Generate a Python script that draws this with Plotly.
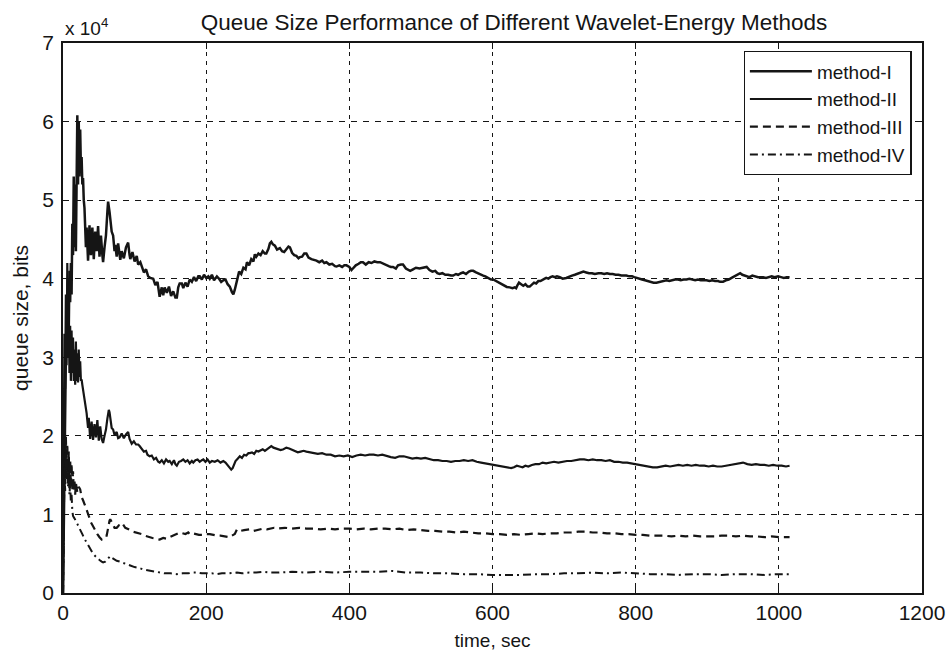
import plotly.graph_objects as go

# ---- data (time in sec, queue size in bits) ----
METHOD_I = [(0,0),(2,15000),(4,30000),(6,36000),(7,40000),(8,33000),(9,41000),(10,37000),(11,42000),(12,38000),(13,47000),(14,43000),(15,53000),(16,44000),(17,52000),(18,43500),(19,53000),(20,60800),(21,52000),(22,60000),(23,53000),(24,59000),(25,54000),(26,55500),(27,52000),(28,52800),(29,50000),(30,49000),(32,44000),(33,46500),(35,42300),(37,46800),(39,43000),(41,46500),(43,42500),(45,46000),(47,43500),(49,46700),(51,42800),(53,45500),(55,43000),(56,42100),(58,44000),(60,45500),(62,48500),(63,49800),(65,48500),(66,47700),(68,46000),(70,45500),(72,43500),(73,44300),(75,42800),(77,44500),(79,42600),(80,42400),(82,43500),(85,42600),(88,44000),(91,44600),(93,43000),(94,42500),(97,43400),(100,42200),(103,42900),(105,41800),(108,42100),(110,41500),(113,40800),(116,41200),(119,40300),(122,40100),(126,40000),(129,39200),(132,39600),(135,37700),(138,38900),(140,37900),(142,38900),(145,38200),(148,39000),(151,37800),(154,38400),(157,37600),(159,37600),(161,38900),(163,39400),(166,39400),(168,38800),(171,39500),(174,39000),(177,39900),(180,39600),(183,40200),(186,39700),(189,40300),(191,40300),(194,39900),(197,40500),(200,40100),(203,40300),(205,40000),(208,40500),(211,39800),(215,40300),(218,40000),(221,39600),(224,39800),(227,39900),(230,39300),(233,39000),(236,38300),(238,38000),(240,38600),(242,39500),(243,40000),(246,40900),(249,40600),(252,41400),(255,41200),(257,42100),(260,41700),(263,42500),(266,42200),(268,43100),(270,42800),(273,43200),(276,43000),(279,43500),(282,43200),(284,43200),(287,43800),(289,44500),(291,44700),(293,44400),(296,44200),(299,43700),(303,43900),(306,43500),(309,43400),(312,43800),(315,44100),(317,44000),(320,43300),(323,43000),(326,42900),(329,42600),(331,42750),(334,42800),(337,43200),(340,43200),(343,42700),(347,42500),(350,42450),(354,42300),(358,42100),(362,42300),(365,42000),(368,42100),(372,41800),(376,41900),(380,41600),(382,41550),(386,41700),(390,41500),(393,41700),(396,41700),(400,41500),(403,41100),(405,41300),(409,41700),(413,41900),(416,42100),(419,42100),(423,41800),(427,42100),(431,42000),(435,42200),(439,42100),(443,42100),(447,41900),(451,41700),(455,41600),(458,41500),(461,41500),(465,41300),(468,41700),(472,41800),(475,41800),(479,41300),(482,41100),(485,41000),(489,41200),(493,41400),(498,41300),(503,41400),(508,41500),(512,41100),(516,40900),(520,41000),(523,40700),(526,40600),(530,40700),(534,40500),(538,40500),(542,40400),(545,40400),(549,40600),(552,40500),(556,40700),(559,40800),(563,40600),(567,40900),(570,41000),(573,41000),(577,40800),(581,40600),(584,40500),(587,40400),(590,40300),(594,40100),(598,39900),(601,39900),(605,39700),(608,39600),(612,39400),(616,39200),(620,38950),(624,38900),(628,38800),(631,38900),(633,38800),(635,39200),(637,39500),(640,39300),(643,39100),(646,39300),(649,39000),(652,39000),(655,39300),(658,39500),(661,39400),(664,39700),(667,39700),(670,39900),(673,40000),(675,40100),(678,40000),(681,40200),(684,40300),(687,40200),(690,40300),(694,40200),(698,40000),(703,40100),(707,40300),(711,40400),(715,40500),(719,40600),(723,40800),(727,40900),(731,40800),(735,40700),(739,40700),(743,40600),(748,40700),(752,40700),(756,40600),(760,40700),(764,40600),(768,40600),(772,40500),(776,40500),(780,40400),(784,40400),(787,40400),(791,40300),(795,40300),(798,40200),(801,40100),(805,40000),(809,39900),(813,39800),(817,39700),(821,39600),(825,39500),(829,39500),(833,39600),(837,39700),(840,39800),(843,39800),(847,39700),(851,39800),(855,39900),(859,39900),(863,39800),(867,39900),(871,39900),(875,40000),(879,39900),(883,39800),(887,39900),(891,39800),(895,39800),(899,39800),(903,39700),(907,39800),(911,39700),(915,39700),(918,39600),(922,39600),(926,39800),(930,39900),(934,40100),(938,40300),(942,40500),(946,40700),(949,40500),(952,40400),(955,40300),(959,40200),(963,40400),(967,40300),(971,40200),(975,40200),(978,40200),(982,40100),(986,40200),(990,40300),(994,40200),(999,40300),(1003,40200),(1007,40100),(1011,40200),(1015,40200)]

METHOD_II = [(0,0),(1,20000),(2,33000),(3,26000),(4,38000),(5,29000),(6,42000),(7,30000),(8,36000),(9,28000),(10,34000),(11,27000),(12,33400),(13,28000),(14,32500),(15,27000),(16,31000),(17,26500),(18,32000),(19,27000),(20,30500),(21,26800),(22,31000),(23,27500),(24,29500),(25,27000),(26,27200),(27,26500),(28,25900),(30,24500),(31,23500),(33,22900),(35,21000),(36,22300),(38,19600),(40,21800),(42,19500),(44,21500),(46,19800),(48,22000),(50,19400),(52,21200),(54,19600),(56,19100),(58,20000),(60,20800),(62,22200),(64,23300),(65,23000),(67,21800),(68,21000),(70,20800),(72,20100),(75,20500),(77,19700),(79,19800),(82,20300),(85,19700),(88,20200),(91,20500),(93,19600),(96,19000),(99,19300),(102,18900),(105,18900),(107,18700),(110,18300),(113,18000),(116,18100),(118,17600),(121,17400),(124,17500),(127,17000),(130,17200),(133,16700),(135,16600),(138,16900),(141,16500),(144,17000),(147,16700),(149,16800),(152,16400),(155,16900),(157,16400),(159,16200),(162,16700),(165,16800),(168,17000),(171,16700),(174,16900),(177,16500),(180,16800),(182,16600),(185,16900),(188,17000),(191,16700),(194,16900),(196,17000),(199,16700),(202,17000),(205,16600),(208,16800),(212,16700),(216,16900),(220,16600),(224,16800),(227,16600),(230,16300),(233,16000),(235,15700),(237,15900),(239,16400),(241,16800),(244,17100),(247,17400),(250,17200),(253,17600),(256,17500),(259,17800),(261,17800),(264,17900),(267,17700),(270,18100),(273,18000),(276,18200),(279,18300),(282,18100),(285,18300),(288,18600),(291,18700),(294,18500),(297,18400),(300,18400),(304,18200),(308,18300),(312,18500),(316,18400),(320,18200),(324,18000),(328,17900),(332,18000),(336,18100),(340,18000),(345,17900),(350,17800),(356,17700),(362,17800),(368,17600),(374,17600),(380,17400),(386,17500),(392,17400),(398,17500),(404,17300),(410,17500),(416,17600),(422,17500),(428,17600),(434,17600),(440,17500),(446,17600),(452,17400),(458,17300),(464,17200),(470,17400),(476,17400),(482,17200),(488,17100),(494,17200),(500,17100),(506,17200),(512,17000),(518,16900),(524,16900),(530,16800),(536,16800),(542,16700),(548,16800),(554,16800),(560,16900),(566,16800),(572,16900),(578,16700),(584,16600),(590,16500),(596,16400),(602,16300),(608,16200),(614,16100),(620,16000),(626,15900),(630,16000),(634,16200),(638,16100),(642,16000),(646,16200),(650,16100),(655,16300),(660,16400),(665,16400),(670,16600),(675,16500),(680,16600),(686,16700),(692,16600),(698,16700),(704,16800),(710,16800),(716,16900),(722,17000),(728,17000),(734,16900),(740,17000),(746,16900),(752,16900),(758,16800),(764,16900),(770,16700),(776,16700),(782,16600),(788,16600),(794,16500),(800,16400),(806,16300),(812,16200),(818,16100),(824,16000),(830,16000),(836,16100),(842,16200),(848,16100),(854,16200),(860,16300),(866,16200),(872,16300),(878,16200),(884,16300),(890,16200),(896,16200),(902,16100),(908,16200),(914,16100),(920,16100),(926,16200),(932,16300),(938,16400),(944,16500),(950,16600),(956,16400),(962,16300),(968,16400),(974,16300),(980,16300),(986,16200),(992,16300),(998,16200),(1004,16200),(1010,16100),(1015,16200)]

METHOD_III = [(0,0),(1,12000),(2,18000),(3,14000),(4,20000),(5,15500),(6,19000),(7,14500),(8,18000),(9,14000),(10,17000),(11,13500),(12,16500),(13,13000),(14,15500),(15,13000),(16,14500),(17,12500),(18,14000),(20,12800),(22,13500),(24,13200),(26,12200),(28,11800),(30,11200),(33,10600),(36,9800),(39,9000),(42,8500),(45,7900),(48,7500),(51,7100),(54,6800),(57,7000),(59,7300),(61,7300),(63,8400),(65,9200),(66,9400),(68,9000),(70,8700),(72,8300),(75,8300),(78,8600),(81,8400),(84,8700),(87,8300),(90,8200),(94,8000),(98,7800),(102,7700),(106,7600),(110,7500),(114,7300),(117,7200),(121,7100),(125,7000),(130,6900),(135,6800),(140,7000),(145,6900),(149,7100),(153,7300),(157,7400),(160,7600),(163,7700),(167,7600),(171,7500),(175,7700),(177,7500),(181,7600),(186,7500),(190,7400),(196,7400),(200,7500),(205,7500),(210,7400),(215,7300),(220,7300),(225,7200),(230,7100),(233,7100),(236,7300),(240,7500),(243,8100),(248,7900),(253,8000),(258,8100),(261,8100),(266,7900),(270,8000),(275,8100),(280,8200),(285,8100),(290,8200),(295,8300),(300,8200),(310,8300),(320,8200),(330,8300),(340,8200),(350,8200),(360,8100),(370,8200),(380,8100),(390,8200),(400,8200),(410,8100),(420,8200),(430,8100),(440,8200),(450,8200),(460,8100),(470,8200),(480,8000),(490,8100),(500,8000),(510,7900),(520,7900),(530,7800),(540,7800),(550,7700),(560,7800),(570,7700),(580,7600),(590,7600),(600,7500),(610,7500),(620,7400),(630,7500),(640,7400),(650,7500),(660,7600),(670,7500),(680,7600),(690,7600),(700,7700),(710,7700),(720,7800),(730,7800),(740,7700),(750,7700),(760,7600),(770,7600),(780,7500),(790,7500),(800,7400),(810,7400),(820,7300),(830,7300),(840,7300),(850,7200),(860,7300),(870,7200),(880,7300),(890,7200),(900,7200),(910,7200),(920,7300),(930,7300),(940,7200),(950,7300),(960,7200),(970,7200),(980,7100),(990,7200),(1000,7100),(1015,7100)]

METHOD_IV = [(0,0),(1,10000),(2,16000),(3,13000),(4,18000),(5,14500),(6,17000),(7,13500),(8,15500),(9,12500),(10,14000),(11,11500),(12,12500),(13,10500),(14,9800),(16,9500),(18,9200),(20,8800),(22,8400),(24,8100),(27,7500),(30,6900),(33,6400),(36,5900),(39,5400),(42,5000),(45,4700),(48,4400),(51,4200),(54,4000),(56,3900),(59,4000),(62,4300),(64,4600),(66,4700),(68,4500),(71,4300),(75,4100),(79,4000),(84,3800),(89,3600),(94,3500),(100,3300),(106,3200),(112,3000),(118,2900),(124,2800),(130,2700),(135,2600),(142,2500),(150,2500),(159,2400),(167,2500),(175,2500),(182,2600),(187,2600),(194,2500),(200,2500),(208,2500),(215,2400),(222,2500),(230,2500),(237,2600),(243,2600),(250,2500),(260,2600),(270,2600),(280,2700),(290,2600),(300,2600),(320,2700),(340,2600),(360,2700),(380,2600),(400,2700),(420,2700),(440,2700),(460,2800),(480,2600),(500,2600),(520,2500),(540,2500),(560,2400),(580,2400),(600,2300),(620,2300),(640,2300),(660,2400),(680,2400),(700,2500),(720,2500),(740,2600),(760,2500),(780,2600),(800,2500),(820,2400),(840,2400),(860,2300),(880,2400),(900,2400),(920,2300),(940,2400),(960,2400),(980,2300),(1000,2400),(1015,2400)]

SERIES_NAMES = ["method-I", "method-II", "method-III", "method-IV"]
X_TICKS = [0, 200, 400, 600, 800, 1000, 1200]
Y_TICKS = [0, 10000, 20000, 30000, 40000, 50000, 60000, 70000]
Y_TICK_TEXT = ["0", "1", "2", "3", "4", "5", "6", "7"]

FONT = "Liberation Sans, Arial, sans-serif"
INK = "#151515"

styles = [
    dict(width=2.5, dash="solid"),
    dict(width=2.2, dash="solid"),
    dict(width=2.2, dash="8px,5px"),
    dict(width=2.0, dash="8px,4px,2px,4px"),
]

fig = go.Figure()
for name, data, st in zip(SERIES_NAMES, [METHOD_I, METHOD_II, METHOD_III, METHOD_IV], styles):
    t, v = zip(*data)
    fig.add_trace(go.Scatter(x=list(t), y=list(v), mode="lines", name=name,
                             line=dict(color=INK, width=st["width"], dash=st["dash"])))

axis_common = dict(
    showline=True, linecolor=INK, linewidth=1.5, mirror="allticks",
    ticks="inside", ticklen=6, tickcolor=INK, tickwidth=1.2,
    showgrid=True, gridcolor=INK, gridwidth=1,
    zeroline=False, tickfont=dict(family=FONT, size=21, color=INK),
)

fig.update_xaxes(range=[0, 1200], tickvals=X_TICKS, griddash="4px,5px",
                 ticklabelstandoff=0,
                 title=dict(text="time, sec", font=dict(family=FONT, size=19, color=INK), standoff=12),
                 **axis_common)
fig.update_yaxes(range=[0, 70000], tickvals=Y_TICKS, ticktext=Y_TICK_TEXT, griddash="6px,6px",
                 ticklabelstandoff=3,
                 title=dict(text="queue size, bits", font=dict(family=FONT, size=21, color=INK), standoff=8),
                 **axis_common)

fig.update_layout(
    width=952, height=651,
    margin=dict(l=63, r=30, t=43, b=58, autoexpand=False),
    paper_bgcolor="white", plot_bgcolor="white",
    font=dict(family=FONT, color=INK),
    title=dict(text="Queue Size Performance of Different Wavelet-Energy Methods",
               font=dict(family=FONT, size=22.5, color=INK),
               x=0.525, xref="paper", xanchor="center", y=1 - 22 / 651, yref="container", yanchor="middle"),
    legend=dict(x=0.988, y=0.985, xanchor="right", yanchor="top",
                bgcolor="white", bordercolor=INK, borderwidth=1.2,
                font=dict(family=FONT, size=19, color=INK), itemwidth=62,
                tracegroupgap=0),
    showlegend=True,
)

fig.add_annotation(text="x 10<sup>4</sup>", xref="paper", yref="paper", x=0, y=1,
                   xanchor="left", yanchor="bottom", yshift=2, showarrow=False,
                   font=dict(family=FONT, size=19, color=INK))

fig.write_html("out.html")
